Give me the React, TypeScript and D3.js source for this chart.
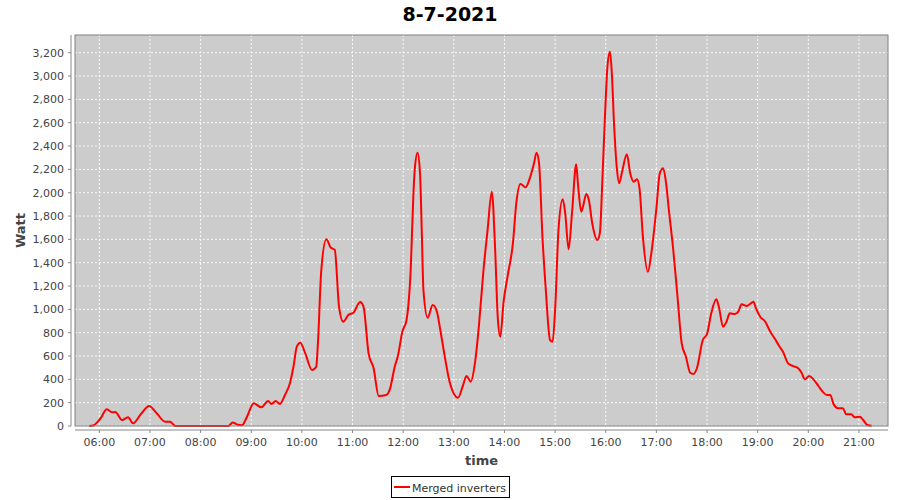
import React from "react";
import * as d3 from "d3";

const title = "8-7-2021";
const seriesName = "Merged inverters";
const xLabel = "time";
const yLabel = "Watt";

const times: string[] = [
  "05:48","05:53","06:01","06:09","06:15","06:19","06:27","06:34","06:40","06:49",
  "06:59","07:08","07:18","07:24","07:30","08:33","08:38","08:44","08:49","08:55",
  "09:03","09:12","09:20","09:24","09:29","09:34","09:40","09:46","09:50","09:54",
  "09:58","10:04","10:12","10:17","10:19","10:23","10:29","10:34","10:39","10:44",
  "10:49","10:55","11:01","11:09","11:13","11:19","11:25","11:31","11:40","11:44",
  "11:50","11:54","11:59","12:04","12:06","12:09","12:12","12:14","12:17","12:20",
  "12:22","12:24","12:29","12:35","12:40","12:44","12:50","12:55","13:05","13:11",
  "13:15","13:20","13:25","13:30","13:35","13:40","13:45","13:49","13:52","13:55",
  "13:59","14:04","14:10","14:14","14:19","14:25","14:30","14:35","14:38","14:41",
  "14:45","14:49","14:54","14:57","15:00","15:04","15:09","15:12","15:16","15:20",
  "15:25","15:27","15:31","15:33","15:37","15:40","15:44","15:50","15:53","15:56",
  "15:59","16:02","16:05","16:07","16:10","16:13","16:16","16:19","16:25","16:29",
  "16:33","16:37","16:40","16:44","16:50","16:54","17:00","17:04","17:08","17:11",
  "17:15","17:20","17:25","17:30","17:35","17:40","17:44","17:48","17:55","18:00",
  "18:05","18:11","18:14","18:19","18:23","18:27","18:33","18:37","18:41","18:47",
  "18:51","18:55","18:58","19:03","19:09","19:15","19:20","19:26","19:30","19:36",
  "19:42","19:48","19:52","19:56","20:01","20:06","20:12","20:18","20:22","20:26",
  "20:30","20:35","20:41","20:45","20:51","20:55","21:01","21:05","21:10","21:15"
];

const watts: number[] = [
  0,5,60,143,117,120,51,75,23,100,
  171,109,37,37,0,0,30,10,6,80,
  194,160,214,189,214,189,266,371,508,680,
  714,623,480,508,709,1337,1600,1532,1509,1023,
  894,952,971,1063,1023,623,495,257,266,309,
  508,609,808,909,1023,1352,1966,2223,2343,2166,
  1680,1166,928,1037,980,823,566,380,243,351,
  429,380,537,880,1323,1680,2009,1509,937,766,
  1066,1295,1566,1909,2075,2046,2123,2252,2343,2252,
  1623,1166,737,723,994,1680,1943,1823,1515,1823,
  2243,2081,1837,1880,1989,1937,1738,1595,1652,2109,
  2638,3080,3209,3052,2566,2223,2081,2166,2329,2166,
  2094,2115,2038,1623,1323,1481,1866,2166,2209,2109,
  1837,1509,1109,709,594,457,446,495,737,789,
  966,1086,1023,851,894,966,960,980,1043,1029,
  1046,1066,1009,937,894,808,752,680,637,537,
  514,495,457,400,429,400,343,286,266,266,
  186,152,152,100,100,75,80,51,9,3
];

const yTicks: number[] = [0,200,400,600,800,1000,1200,1400,1600,1800,2000,2200,2400,2600,2800,3000,3200];
const xTickHours: number[] = [6,7,8,9,10,11,12,13,14,15,16,17,18,19,20,21];

const toDate = (hh: number, mm: number, ss = 0) => new Date(2021, 6, 8, hh, mm, ss);
const parseT = (s: string) => {
  const [h, m] = s.split(":").map(Number);
  return toDate(h, m);
};

export default function App() {
  const W = 900, H = 500;
  const left = 75, right = 888, top = 35, bottom = 426;
  const x = d3.scaleTime()
    .domain([toDate(5, 31, 12), toDate(21, 34, 24)])
    .range([left, right]);
  const y = d3.scaleLinear().domain([0, 3352]).range([bottom, top]);

  const data = times.map((t, i) => ({ t: parseT(t), v: watts[i] }));
  const line = d3.line<{ t: Date; v: number }>()
    .x(d => x(d.t))
    .y(d => y(d.v))
    .curve(d3.curveMonotoneX);

  const fmt = d3.format(",");
  const tickFont = "'DejaVu Sans', sans-serif";
  const axisGrey = "#888888";

  return (
    <svg width={W} height={H} style={{ position: "absolute", left: 0, top: 0, background: "#ffffff" }}>
      <rect x={0} y={0} width={W} height={H} fill="#ffffff" />
      <text x={450} y={21} textAnchor="middle" fontFamily={tickFont} fontWeight="bold" fontSize={19} fill="#000">{title}</text>

      <rect x={left} y={top} width={right - left} height={bottom - top} fill="#cccccc" />
      {yTicks.map(v => (
        <line key={"gy" + v} x1={left} x2={right} y1={y(v) } y2={y(v)} stroke="#ffffff" strokeWidth={1} strokeDasharray="2,2" opacity={0.9} />
      ))}
      {xTickHours.map(h => (
        <line key={"gx" + h} x1={x(toDate(h, 0))} x2={x(toDate(h, 0))} y1={top} y2={bottom} stroke="#ffffff" strokeWidth={1} strokeDasharray="2,2" opacity={0.9} />
      ))}

      <path d={line(data) || ""} fill="none" stroke="#ff0000" strokeWidth={2} strokeLinejoin="round" />
      <rect x={left} y={top} width={right - left} height={bottom - top} fill="none" stroke="#808080" strokeWidth={1} />

      {/* y axis */}
      <line x1={71} x2={71} y1={top} y2={bottom} stroke={axisGrey} />
      {yTicks.map(v => (
        <g key={"yt" + v}>
          <line x1={68} x2={71} y1={y(v)} y2={y(v)} stroke={axisGrey} />
          <text x={64} y={y(v)} dy="0.35em" textAnchor="end" fontFamily={tickFont} fontSize={11} fill="#444444">{fmt(v)}</text>
        </g>
      ))}
      <text transform={`translate(25,${(top + bottom) / 2}) rotate(-90)`} textAnchor="middle" fontFamily={tickFont} fontWeight="bold" fontSize={13} fill="#444444">{yLabel}</text>

      {/* x axis */}
      <line x1={left} x2={right} y1={430} y2={430} stroke={axisGrey} />
      {xTickHours.map(h => {
        const px = x(toDate(h, 0));
        return (
          <g key={"xt" + h}>
            <line x1={px} x2={px} y1={430} y2={433} stroke={axisGrey} />
            <text x={px} y={446} textAnchor="middle" fontFamily={tickFont} fontSize={11} fill="#444444">{d3.timeFormat("%H:%M")(toDate(h, 0))}</text>
          </g>
        );
      })}
      <text x={(left + right) / 2} y={465} textAnchor="middle" fontFamily={tickFont} fontWeight="bold" fontSize={13} fill="#444444">{xLabel}</text>

      {/* legend */}
      <rect x={391.5} y={476.5} width={118} height={21} fill="#ffffff" stroke="#000000" strokeWidth={1} />
      <line x1={394} x2={410} y1={487} y2={487} stroke="#ff0000" strokeWidth={2} />
      <text x={412} y={492} fontFamily={tickFont} fontSize={11} fill="#333333">{seriesName}</text>
    </svg>
  );
}
